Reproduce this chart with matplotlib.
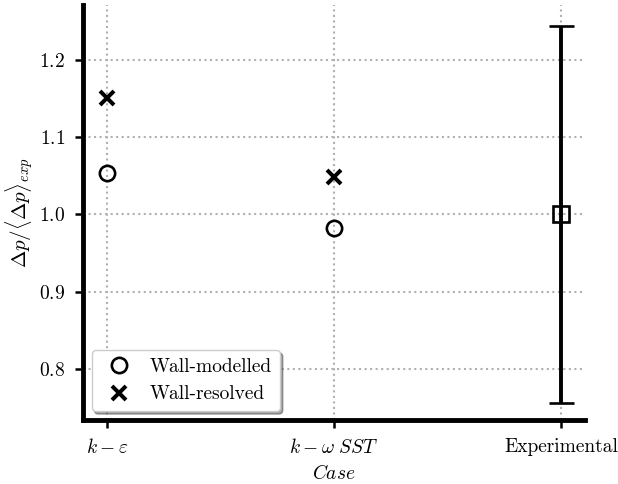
import matplotlib

matplotlib.use("Agg")

import matplotlib.pyplot as plt
import numpy as np

CASES = [r"$k-\varepsilon$", r"$k-\omega\ SST$", "Experimental"]
WALL_MODELLED = [1.054, 0.982]
WALL_RESOLVED = [1.151, 1.049]
EXP_VALUE = [1.0]
EXP_ERROR = [0.244]

plt.rcParams.update(
    {
        "font.family": "serif",
        "font.serif": ["cmr10", "DejaVu Serif"],
        "mathtext.fontset": "cm",
        "axes.formatter.use_mathtext": True,
        "axes.unicode_minus": False,
        "xtick.labelsize": 14,
        "ytick.labelsize": 14,
        "axes.labelsize": 14,
    }
)

fig = plt.figure(figsize=(6.18, 4.84), dpi=100)
ax = fig.add_axes([0.1343, 0.1322, 0.8123, 0.8574])

x = np.arange(len(CASES))

ax.plot(x[:2], WALL_MODELLED, linestyle="none", marker="o", markersize=11,
        markerfacecolor="none", markeredgecolor="black", markeredgewidth=1.9,
        label="Wall-modelled", zorder=3)
ax.plot(x[:2], WALL_RESOLVED, linestyle="none", marker="x", markersize=10.5,
        color="black", markeredgewidth=2.9, label="Wall-resolved", zorder=3)
ax.errorbar(x[2:], EXP_VALUE, yerr=EXP_ERROR, fmt="s", markersize=11.5,
            markerfacecolor="none", markeredgecolor="black", markeredgewidth=1.9,
            ecolor="black", elinewidth=2.8, capsize=9, capthick=2.2, zorder=3)

ax.set_xlim(-0.105, 2.105)
ax.set_ylim(0.734, 1.271)
ax.set_xticks(x, CASES)
ax.set_yticks([0.8, 0.9, 1.0, 1.1, 1.2])
ax.set_xlabel(r"$Case$", labelpad=5)
ax.set_ylabel(r"$\Delta p/\langle \Delta p \rangle_{exp}$", fontsize=15, labelpad=2)

ax.grid(True, linestyle=":", color="#b0b0b0", linewidth=1.5)
ax.set_axisbelow(True)
ax.spines["top"].set_visible(False)
ax.spines["right"].set_visible(False)
ax.spines["left"].set_linewidth(3.5)
ax.spines["bottom"].set_linewidth(3.5)
ax.tick_params(length=6, width=1.8, pad=7)

ax.legend(loc="lower left", shadow=True, fancybox=True, fontsize=14,
          borderaxespad=0.45, handletextpad=0.6, framealpha=1,
          edgecolor="#cccccc")

fig.savefig("out.png", dpi=100)
